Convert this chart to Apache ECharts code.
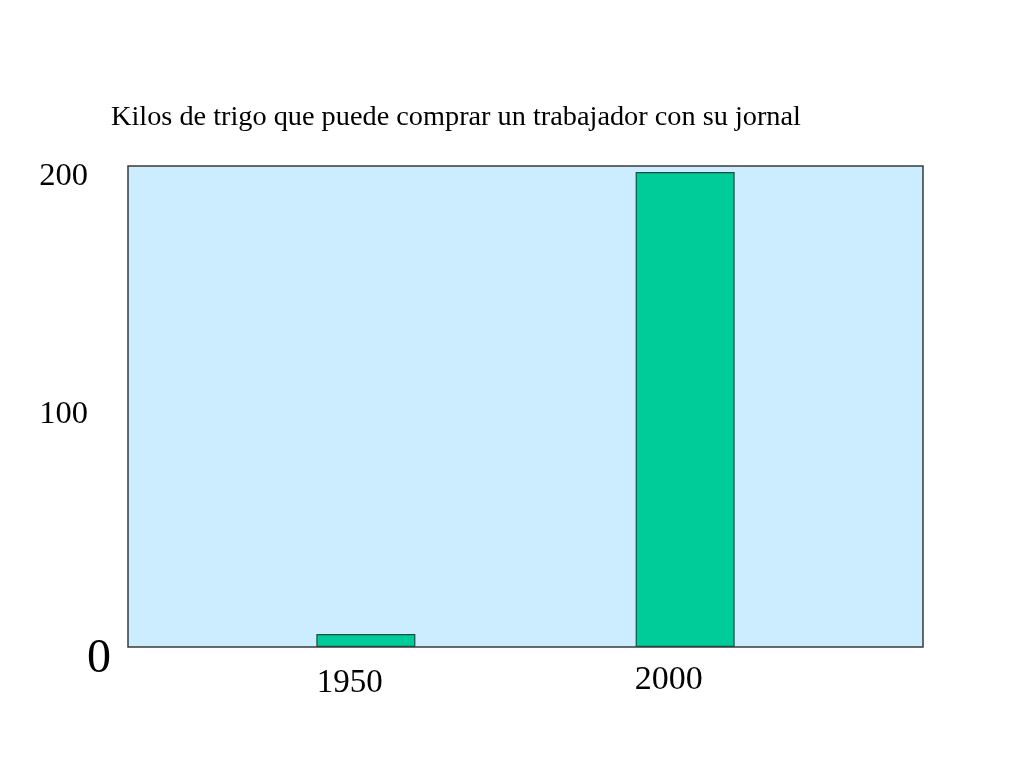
<!DOCTYPE html>
<html>
<head>
<meta charset="utf-8">
<script src="https://cdn.jsdelivr.net/npm/echarts@6/dist/echarts.min.js"></script>
<style>
  html, body { margin: 0; padding: 0; background: #fff; }
  #chart { width: 1024px; height: 768px; }
</style>
</head>
<body>
<div id="chart"></div>
<script>
const titleText = "Kilos de trigo que puede comprar un trabajador con su jornal";
const years = [1950, 2000];
const kilos = [5.5, 200];
const yTicks = [0, 100, 200];

const serif = "'Liberation Serif', 'Times New Roman', serif";

const chart = echarts.init(document.getElementById("chart"));

chart.setOption({
  animation: false,
  title: {
    text: titleText,
    left: 106,
    top: 99,
    textStyle: { fontFamily: serif, fontWeight: "normal", fontSize: 28.3, color: "#000" },
  },
  grid: {
    left: 128,
    top: 166,
    right: 101,
    bottom: 121,
    show: true,
    backgroundColor: "#CCECFF",
    borderColor: "#3a3a3a",
    borderWidth: 1.5,
  },
  xAxis: {
    type: "value",
    min: 1912.75,
    max: 2037.25,
    splitLine: { show: false },
    axisLine: { show: false },
    axisTick: { show: false },
    axisLabel: {
      customValues: years,
      margin: 14,
      formatter: (v) => (v === 1950 ? "{a|" + v + "}" : "{b|" + v + "}"),
      rich: {
        a: { fontFamily: serif, fontSize: 33, color: "#000", padding: [6, 32, 0, 0] },
        b: { fontFamily: serif, fontSize: 34, color: "#000", padding: [2, 33, 0, 0] },
      },
    },
  },
  yAxis: {
    type: "value",
    min: 0,
    max: 202.5,
    splitLine: { show: false },
    axisLine: { show: false },
    axisTick: { show: false },
    axisLabel: {
      customValues: yTicks,
      margin: 17,
      formatter: (v) => (v === 0 ? "{z|0}" : "{n|" + v + "}"),
      rich: {
        z: { fontFamily: serif, fontSize: 48, color: "#000", padding: [24, 0, 0, 0] },
        n: { fontFamily: serif, fontSize: 32.5, color: "#000", padding: [9, 23, 0, 0] },
      },
    },
  },
  series: [
    {
      type: "bar",
      barWidth: 99,
      data: years.map((y, i) => [y, kilos[i]]),
      itemStyle: { color: "#00CC99", borderColor: "#1f4a3c", borderWidth: 1.2 },
    },
  ],
});
</script>
</body>
</html>
